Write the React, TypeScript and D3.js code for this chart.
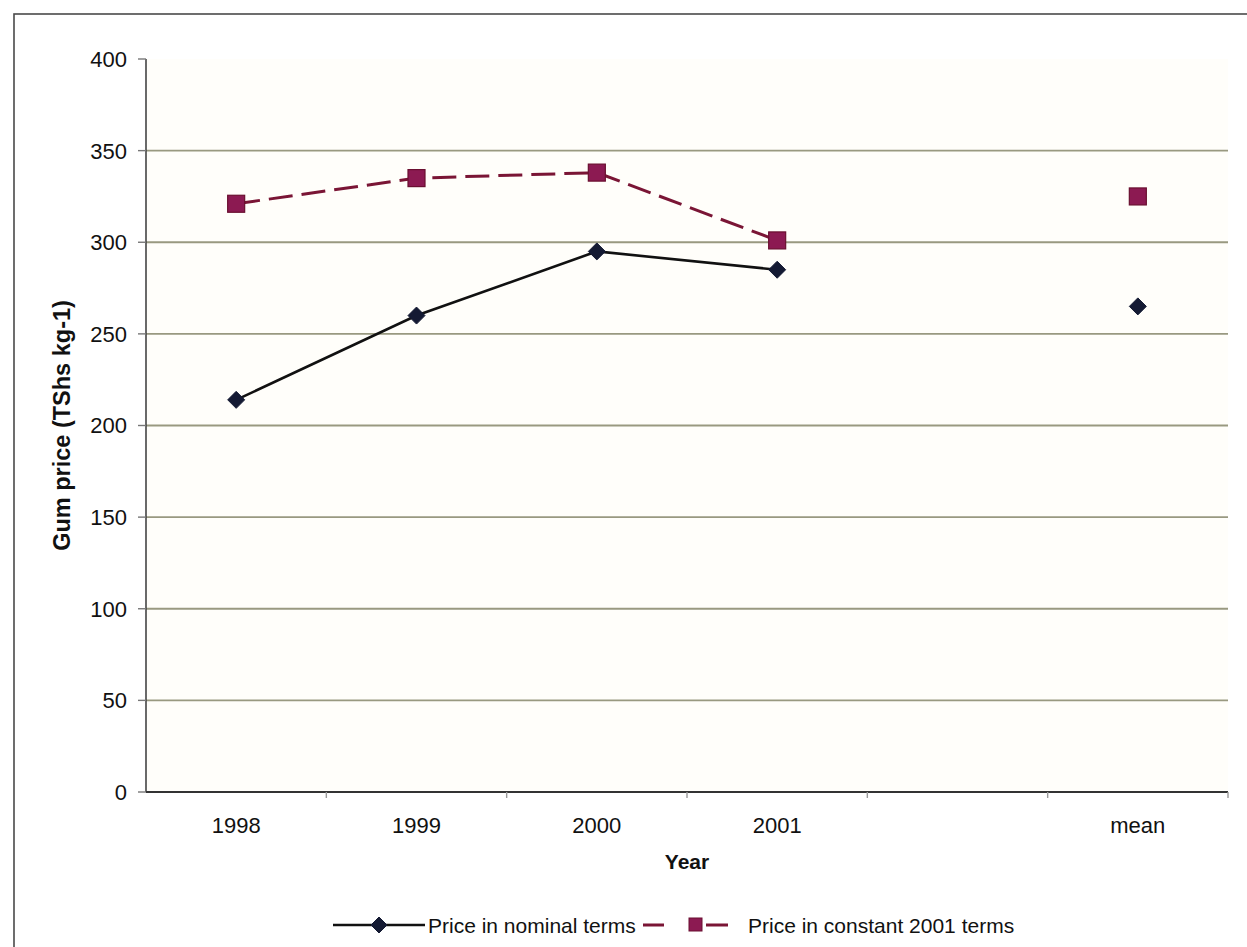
import React, { useEffect } from "react";
import * as d3 from "d3";

const categories = ["1998", "1999", "2000", "2001", " ", "mean"];
const nominal: (number | null)[] = [214, 260, 295, 285, null, 265];
const constant2001: (number | null)[] = [321, 335, 338, 301, null, 325];
const yTicks = [0, 50, 100, 150, 200, 250, 300, 350, 400];
const seriesNames = ["Price in nominal terms", "Price in constant 2001 terms"];

const W = 1247;
const H = 947;
const FONT = "'Liberation Sans', Arial, sans-serif";

export default function App() {
  useEffect(() => {
    document.body.style.margin = "0";
    document.body.style.overflow = "hidden";
  }, []);

  const left = 146, right = 1228, top = 59, bottom = 792;
  const x = d3.scaleBand<string>().domain(categories).range([left, right]).padding(0);
  const y = d3.scaleLinear().domain([0, 400]).range([bottom, top]);
  const cx = (i: number) => (x(categories[i]) as number) + x.bandwidth() / 2;

  const line = d3
    .line<number | null>()
    .defined((d) => d != null)
    .x((_, i) => cx(i))
    .y((d) => y(d as number));

  const diamond = (px: number, py: number, r: number) =>
    `M${px},${py - r}L${px + r},${py}L${px},${py + r}L${px - r},${py}Z`;

  const lineColor = "#7a1535";
  const sqFill = "#8c1a52";
  const sqStroke = "#6a0f30";
  const diaFill = "#141a33";
  const gridColor = "#999980";

  const legendY = 925;

  return (
    <svg
      width={W}
      height={H}
      style={{ position: "absolute", left: 0, top: 0, background: "#ffffff" }}
      fontFamily={FONT}
    >
      <rect x={0} y={0} width={W} height={H} fill="#ffffff" />
      {/* plot area background */}
      <rect x={left} y={top} width={right - left} height={bottom - top} fill="#fffefa" />
      {/* outer frame */}
      <rect x={14} y={14} width={W + 20} height={H + 20} fill="none" stroke="#4a4a4a" strokeWidth={1.6} />

      {/* gridlines */}
      {yTicks
        .filter((t) => t > 0 && t < 400)
        .map((t) => (
          <line key={"g" + t} x1={left} x2={right} y1={y(t)} y2={y(t)} stroke={gridColor} strokeWidth={1.8} />
        ))}

      {/* y axis */}
      <line x1={left} x2={left} y1={top} y2={bottom} stroke="#444" strokeWidth={1.6} />
      {yTicks.map((t) => (
        <g key={"yt" + t}>
          <line x1={left - 8} x2={left} y1={y(t)} y2={y(t)} stroke="#777" strokeWidth={1.4} />
          <text x={127} y={y(t)} dy="0.36em" textAnchor="end" fontSize={22} fill="#111">
            {t}
          </text>
        </g>
      ))}

      {/* x axis */}
      <line x1={left} x2={right} y1={bottom} y2={bottom} stroke="#333" strokeWidth={1.8} />
      {categories.map((c, i) => (
        <g key={"xt" + i}>
          {i > 0 && (
            <line
              x1={x(c) as number}
              x2={x(c) as number}
              y1={bottom}
              y2={bottom + 6}
              stroke="#999"
              strokeWidth={1.4}
            />
          )}
          <text x={cx(i)} y={833} textAnchor="middle" fontSize={22} fill="#111">
            {c.trim()}
          </text>
        </g>
      ))}
      <line x1={right} x2={right} y1={bottom} y2={bottom + 6} stroke="#999" strokeWidth={1.4} />

      {/* axis titles */}
      <text x={687} y={869} textAnchor="middle" fontSize={21} fontWeight="bold" fill="#111">
        Year
      </text>
      <text
        transform={`translate(70,${(top + bottom) / 2}) rotate(-90)`}
        textAnchor="middle"
        fontSize={23.5}
        fontWeight="bold"
        fill="#111"
      >
        Gum price (TShs kg-1)
      </text>

      {/* nominal series */}
      <path d={line(nominal) || ""} fill="none" stroke="#111" strokeWidth={2.6} />
      {nominal.map((v, i) =>
        v == null ? null : <path key={"n" + i} d={diamond(cx(i), y(v), 8.5)} fill={diaFill} stroke={diaFill} strokeWidth={1} />
      )}

      {/* constant series */}
      <path
        d={line(constant2001) || ""}
        fill="none"
        stroke={lineColor}
        strokeWidth={3}
        strokeDasharray="24,9"
      />
      {constant2001.map((v, i) =>
        v == null ? null : (
          <rect
            key={"c" + i}
            x={cx(i) - 8.5}
            y={y(v) - 8.5}
            width={17}
            height={17}
            fill={sqFill}
            stroke={sqStroke}
            strokeWidth={1.2}
          />
        )
      )}

      {/* legend */}
      <g>
        <line x1={333} x2={425} y1={legendY} y2={legendY} stroke="#111" strokeWidth={2.6} />
        <path d={diamond(379, legendY, 8)} fill={diaFill} stroke={diaFill} />
        <text x={428} y={legendY} dy="0.36em" fontSize={21} fill="#111">
          {seriesNames[0]}
        </text>
        <line x1={643} x2={664} y1={legendY} y2={legendY} stroke={lineColor} strokeWidth={3} />
        <rect x={689} y={legendY - 7} width={13} height={13} fill={sqFill} stroke={sqStroke} strokeWidth={1} />
        <line x1={706} x2={728} y1={legendY} y2={legendY} stroke={lineColor} strokeWidth={3} />
        <text x={748} y={legendY} dy="0.36em" fontSize={21} fill="#111">
          {seriesNames[1]}
        </text>
      </g>
    </svg>
  );
}
